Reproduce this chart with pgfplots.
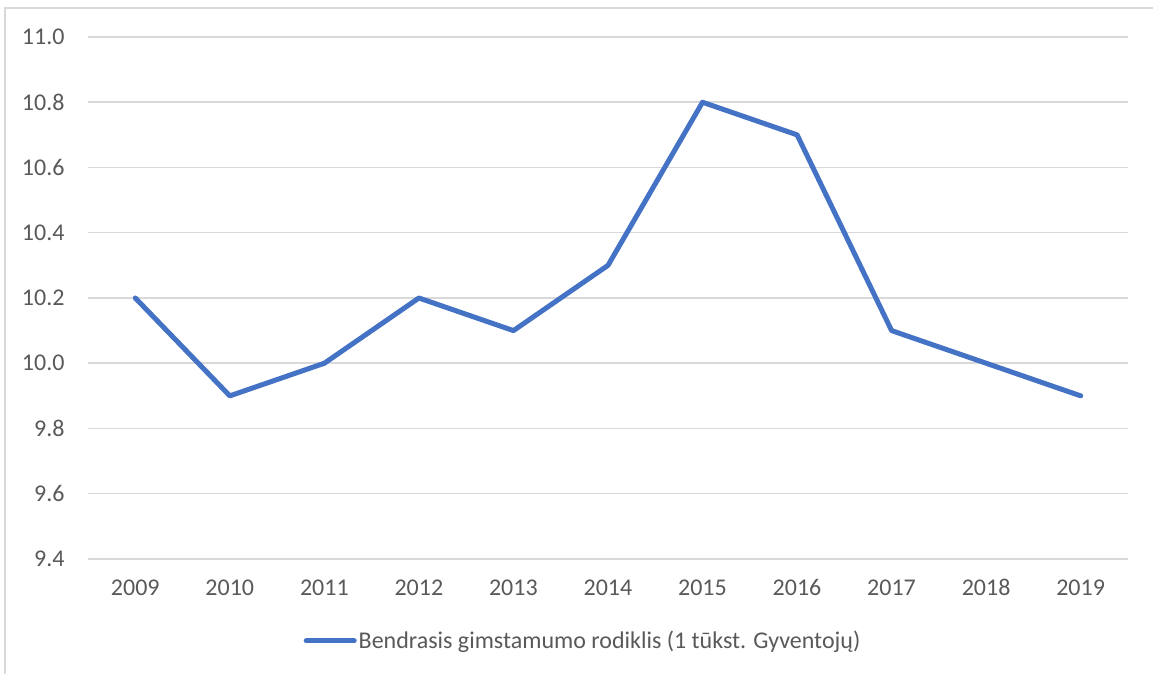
\documentclass[border=0pt]{standalone}
\usepackage{pgfplots}
\pgfplotsset{compat=1.18}
\usepackage{fontspec}
\setmainfont{Carlito}
\definecolor{lineblue}{HTML}{4472C4}
\definecolor{gridgray}{HTML}{D9D9D9}
\definecolor{textgray}{HTML}{595959}
\begin{document}
\begin{tikzpicture}[x=1bp,y=1bp]
\useasboundingbox (0,0) rectangle (1153,674);
\draw[gridgray, line width=1.5bp] (5,-20) -- (5,666) -- (1180,666);
\begin{axis}[
  at={(88bp,115bp)}, anchor=south west,
  scale only axis, width=1040bp, height=522bp,
  xmin=2008.5, xmax=2019.5, ymin=9.4, ymax=11.0,
  xtick={2009,...,2019},
  ytick={9.4,9.6,9.8,10.0,10.2,10.4,10.6,10.8,11.0},
  x tick label style={/pgf/number format/1000 sep={}},
  y tick label style={/pgf/number format/fixed, /pgf/number format/fixed zerofill, /pgf/number format/precision=1},
  /pgf/number format/assume math mode=true,
  ticklabel style={font=\fontsize{24bp}{28bp}\selectfont, text=textgray},
  xticklabel style={yshift=-17bp},
  yticklabel style={xshift=-20bp},
  axis line style={draw=none},
  major tick length=0pt,
  ymajorgrids, grid style={gridgray, line width=1.5bp},
  legend style={at={(0.476,-0.157)}, anchor=center, draw=none, fill=none,
    font=\fontsize{24bp}{28bp}\selectfont, text=textgray,
    legend cell align=left, inner sep=0pt},
  legend image code/.code={\draw[#1, line cap=round] (0bp,0bp) -- (48bp,0bp);},
]
\addplot[lineblue, line width=5bp, line join=round, line cap=round] coordinates {
(2009,10.2) (2010,9.9) (2011,10.0) (2012,10.2) (2013,10.1) (2014,10.3)
(2015,10.8) (2016,10.7) (2017,10.1) (2018,10.0) (2019,9.9)};
\addlegendentry{Bendrasis gimstamumo rodiklis (1 tūkst. Gyventojų)}
\end{axis}
\end{tikzpicture}
\end{document}
